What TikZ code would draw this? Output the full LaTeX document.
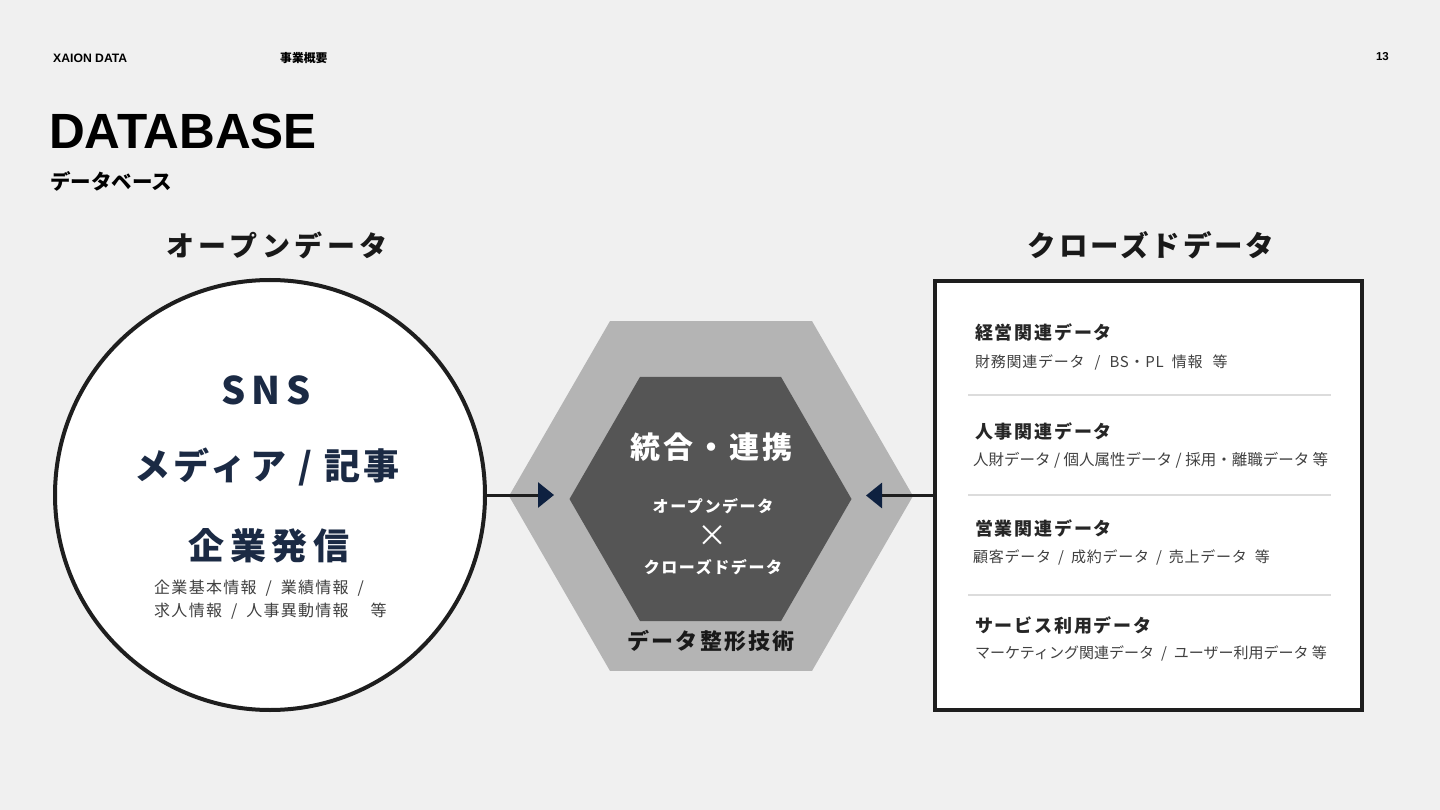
\documentclass[tikz,border=0pt]{standalone}
\usepackage{fontspec}
\setmainfont{Liberation Sans}
\newfontfamily\jpfont{Noto Sans CJK JP}
\newfontfamily\jpnarrow{Noto Sans CJK JP}[LetterSpace=5]
\newfontfamily\jpmid{Noto Sans CJK JP}[LetterSpace=8]
\newfontfamily\jpwide{Noto Sans CJK JP}[LetterSpace=10]
\newfontfamily\jpwider{Noto Sans CJK JP}[LetterSpace=16]
\usetikzlibrary{positioning,arrows.meta}
\definecolor{bgpaper}{HTML}{F0F0F0}
\definecolor{navytext}{HTML}{1B2A44}
\definecolor{navytip}{HTML}{0E2140}
\definecolor{hexlight}{HTML}{B4B4B4}
\definecolor{hexdark}{HTML}{555555}
\definecolor{inkline}{HTML}{1E1E1E}
\definecolor{rulegray}{HTML}{DCDCDC}
\newcommand{\pxsize}[1]{\fontsize{#1}{#1}\selectfont}
\newcommand{\sepslash}{\hspace{7pt}/\hspace{7pt}}

\begin{document}
\begin{tikzpicture}[x=1pt,y=-1pt,
  every node/.style={inner sep=0pt},
  flow/.style={line width=3pt,draw=inkline,-{Triangle[length=16pt,width=25pt,color=navytip]}},
  bigtitle/.style={font=\jpwider\bfseries\pxsize{28},text=black!90},
  circtext/.style={font=\jpwider\bfseries\pxsize{36},text=navytext},
  subhead/.style={font=\jpwide\bfseries\pxsize{18},text=black!85,anchor=west},
  subtext/.style={font=\jpnarrow\pxsize{15},text=black!75,anchor=west},
  coretext/.style={font=\jpwide\bfseries\pxsize{16},text=white},
  sepline/.style={draw=rulegray,line width=1.2pt}]
  \fill[bgpaper] (0,0) rectangle (1440,810);
  \useasboundingbox (0,0) rectangle (1440,810);

  % page header
  \node[anchor=west,font=\bfseries\pxsize{12.2}] (brand) at (53,58) {XAION DATA};
  \node[anchor=west,font=\jpfont\bfseries\pxsize{11.8}] (section) at (280,58) {事業概要};
  \node[anchor=east,font=\bfseries\pxsize{11.5}] (pageno) at (1389,57) {13};
  \node[anchor=west,font=\bfseries\pxsize{49.5}] (title) at (49,131) {DATABASE};
  \node[anchor=west,font=\jpfont\bfseries\pxsize{20.5}] (subtitle) at (50,181) {データベース};

  % open data
  \node[bigtitle] (openlabel) at (277,245) {オープンデータ};
  \node[circle,draw=inkline,line width=4pt,fill=white,minimum size=430pt] (open) at (270,495) {};
  \node[circtext,font=\jpwider\bfseries\pxsize{38}] (sns) at (266,390) {SNS};
  \node[circtext,font=\jpwide\bfseries\pxsize{36}] (media) at (267,467) {メディア / 記事};
  \node[circtext] (corp) at (269,546) {企業発信};
  \node[anchor=north west,align=left,font=\jpmid\pxsize{16},text=black!75] (corpinfo) at (154,580)
    {企業基本情報\hspace{9pt}/\hspace{9pt}業績情報\hspace{9pt}/\\[5pt]求人情報\hspace{9pt}/\hspace{9pt}人事異動情報\hspace{22pt}等};

  % hexagons
  \coordinate (hexc) at (711,496);
  \coordinate (corec) at (710.5,499);
  \fill[hexlight] (hexc) +(0:202) -- +(60:202) -- +(120:202) -- +(180:202) -- +(240:202) -- +(300:202) -- cycle;
  \fill[hexdark] (corec) +(0:141) -- +(60:141) -- +(120:141) -- +(180:141) -- +(240:141) -- +(300:141) -- cycle;
  \node[font=\jpwide\bfseries\pxsize{30},text=white] (merge) at (711,447) {統合・連携};
  \node[coretext] (coreopen) at (713,506) {オープンデータ};
  \node[font=\jpfont\pxsize{30},text=white] (cross) at (712,536) {×};
  \node[coretext] (coreclosed) at (713,567) {クローズドデータ};
  \node[font=\jpwide\bfseries\pxsize{22},text=black!90] (shaping) at (711,641) {データ整形技術};

  % closed data
  \node[bigtitle,font=\jpwide\bfseries\pxsize{28.5}] (closedlabel) at (1151,245) {クローズドデータ};
  \node[draw=inkline,line width=4pt,fill=white,minimum width=427pt,minimum height=429pt] (closed) at (1148.5,495.5) {};
  \node[subhead] (mgmt) at (975,332) {経営関連データ};
  \node[subtext] (mgmtsub) at (975,362) {財務関連データ\hspace{10pt}/\hspace{9pt}BS・PL\hspace{8pt}情報\hspace{10pt}等};
  \node[subhead] (hr) at (975,431) {人事関連データ};
  \node[subtext,font=\jpfont\pxsize{15.5}] (hrsub) at (973,460) {人財データ / 個人属性データ / 採用・離職データ 等};
  \node[subhead] (sales) at (975,528) {営業関連データ};
  \node[subtext] (salessub) at (973,557) {顧客データ\sepslash 成約データ\sepslash 売上データ\hspace{8pt}等};
  \node[subhead] (service) at (975,626) {サービス利用データ};
  \node[subtext,font=\jpfont\pxsize{15}] (servicesub) at (975,653) {マーケティング関連データ\sepslash ユーザー利用データ 等};
  \foreach \y in {395,495,595} {
    \draw[sepline] (968,\y) -- (1331,\y);
  }

  % arrows into the core
  \coordinate (lefttip) at (554,496);
  \coordinate (righttip) at (866,496);
  \draw[flow] (open.east) -- (open.east -| lefttip);
  \draw[flow] (closed.west) -- (closed.west -| righttip);
\end{tikzpicture}
\end{document}
